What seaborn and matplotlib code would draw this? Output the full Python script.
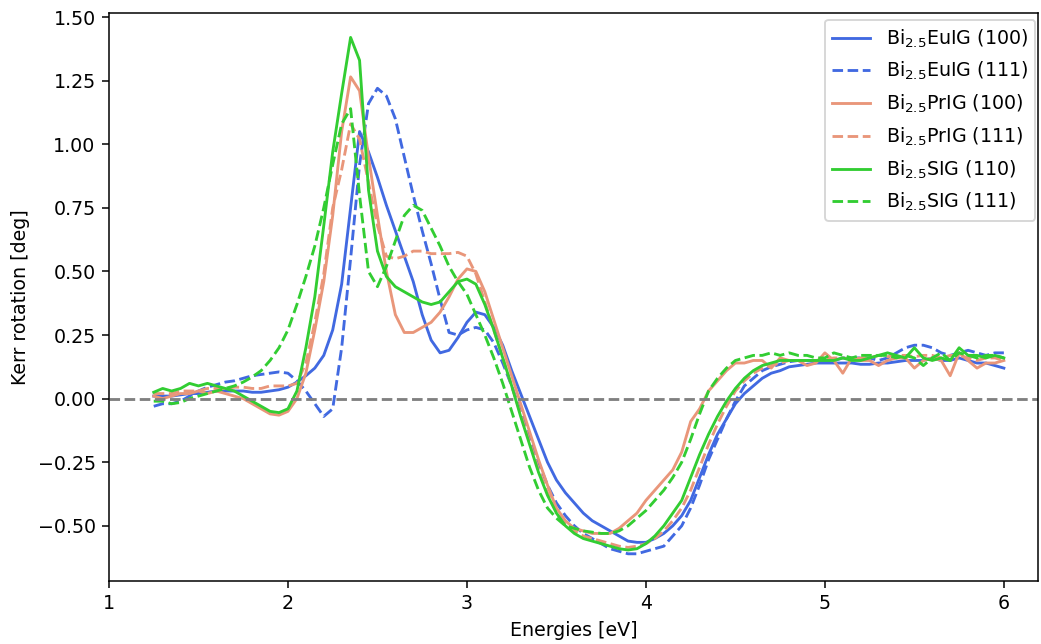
import numpy as np
import pandas as pd
import matplotlib
matplotlib.use("Agg")
import matplotlib.pyplot as plt
import seaborn as sns

# Energy grid (eV)
energies = np.round(np.linspace(1.25, 6.0, 96), 2)

eu_100 = [0.01, 0.01, 0.01, 0.015, 0.02, 0.02, 0.025, 0.03, 0.03, 0.03, 0.03, 0.025, 0.025, 0.03, 0.035, 0.045,
          0.065, 0.09, 0.12, 0.17, 0.27, 0.45, 0.75, 1.05, 0.97, 0.87, 0.76, 0.66, 0.56, 0.46, 0.33, 0.23, 0.18, 0.19, 0.24, 0.30,
          0.34, 0.33, 0.28, 0.21, 0.11, 0.02, -0.07, -0.16, -0.25, -0.32, -0.37, -0.41, -0.45, -0.48, -0.50, -0.52, -0.54, -0.56, -0.565, -0.565,
          -0.55, -0.53, -0.50, -0.46, -0.40, -0.31, -0.22, -0.14, -0.08, -0.02, 0.02, 0.05, 0.08, 0.10, 0.11, 0.125, 0.13, 0.135, 0.14, 0.14,
          0.14, 0.14, 0.14, 0.135, 0.135, 0.14, 0.14, 0.145, 0.15, 0.15, 0.15, 0.16, 0.15, 0.15, 0.16, 0.15, 0.14, 0.14, 0.13, 0.12]

eu_111 = [-0.03, -0.02, -0.02, -0.01, 0.01, 0.03, 0.045, 0.055, 0.065, 0.07, 0.08, 0.09, 0.095, 0.10, 0.105, 0.10,
          0.07, 0.03, -0.02, -0.07, -0.04, 0.20, 0.55, 0.92, 1.16, 1.22, 1.19, 1.10, 0.95, 0.80, 0.66, 0.53, 0.39, 0.26, 0.25, 0.27,
          0.28, 0.27, 0.22, 0.14, 0.05, -0.05, -0.15, -0.25, -0.34, -0.41, -0.46, -0.50, -0.53, -0.55, -0.57, -0.59, -0.60, -0.61, -0.61, -0.60,
          -0.59, -0.58, -0.54, -0.50, -0.43, -0.34, -0.24, -0.16, -0.08, -0.01, 0.05, 0.08, 0.11, 0.125, 0.135, 0.145, 0.15, 0.15, 0.15, 0.15,
          0.15, 0.16, 0.16, 0.16, 0.16, 0.15, 0.16, 0.18, 0.20, 0.21, 0.21, 0.20, 0.18, 0.17, 0.18, 0.19, 0.18, 0.17, 0.18, 0.18]

pr_100 = [0.01, 0.00, 0.01, 0.02, 0.02, 0.03, 0.02, 0.03, 0.02, 0.01, 0.00, -0.02, -0.04, -0.06, -0.065, -0.05,
          0.00, 0.10, 0.27, 0.46, 0.72, 1.05, 1.265, 1.21, 0.95, 0.72, 0.50, 0.33, 0.26, 0.26, 0.28, 0.30, 0.34, 0.40, 0.47, 0.51,
          0.50, 0.42, 0.31, 0.20, 0.09, -0.02, -0.13, -0.24, -0.34, -0.43, -0.48, -0.51, -0.52, -0.53, -0.53, -0.53, -0.51, -0.48, -0.45, -0.40,
          -0.36, -0.32, -0.28, -0.21, -0.09, -0.04, 0.03, 0.07, 0.11, 0.14, 0.14, 0.15, 0.15, 0.12, 0.16, 0.15, 0.15, 0.13, 0.14, 0.18,
          0.15, 0.10, 0.16, 0.15, 0.15, 0.13, 0.15, 0.16, 0.16, 0.12, 0.15, 0.16, 0.15, 0.09, 0.18, 0.15, 0.12, 0.14, 0.14, 0.15]

pr_111 = [0.02, 0.02, 0.02, 0.03, 0.03, 0.03, 0.04, 0.04, 0.04, 0.045, 0.045, 0.04, 0.04, 0.05, 0.05, 0.05,
          0.06, 0.14, 0.30, 0.49, 0.75, 0.90, 1.08, 1.02, 0.85, 0.68, 0.56, 0.55, 0.56, 0.58, 0.58, 0.57, 0.57, 0.57, 0.575, 0.56,
          0.49, 0.38, 0.27, 0.16, 0.05, -0.06, -0.17, -0.28, -0.37, -0.44, -0.49, -0.52, -0.54, -0.55, -0.56, -0.57, -0.58, -0.585, -0.58, -0.57,
          -0.55, -0.52, -0.48, -0.43, -0.36, -0.27, -0.18, -0.10, -0.03, 0.03, 0.07, 0.10, 0.12, 0.13, 0.14, 0.15, 0.15, 0.15, 0.15, 0.155,
          0.16, 0.16, 0.155, 0.16, 0.16, 0.17, 0.165, 0.17, 0.17, 0.165, 0.17, 0.17, 0.16, 0.17, 0.17, 0.16, 0.15, 0.16, 0.16, 0.15]

si_110 = [0.025, 0.04, 0.03, 0.04, 0.06, 0.05, 0.06, 0.05, 0.04, 0.03, 0.01, -0.01, -0.03, -0.05, -0.055, -0.04,
          0.03, 0.20, 0.40, 0.68, 0.97, 1.20, 1.42, 1.33, 0.82, 0.58, 0.48, 0.44, 0.42, 0.40, 0.38, 0.37, 0.38, 0.42, 0.46, 0.47,
          0.45, 0.37, 0.27, 0.16, 0.05, -0.07, -0.18, -0.29, -0.38, -0.45, -0.50, -0.53, -0.55, -0.56, -0.57, -0.58, -0.59, -0.595, -0.59, -0.57,
          -0.54, -0.50, -0.45, -0.40, -0.31, -0.22, -0.14, -0.07, -0.01, 0.04, 0.08, 0.11, 0.13, 0.14, 0.15, 0.15, 0.15, 0.15, 0.15, 0.15,
          0.15, 0.16, 0.15, 0.15, 0.16, 0.17, 0.18, 0.17, 0.16, 0.20, 0.16, 0.15, 0.16, 0.15, 0.20, 0.17, 0.17, 0.16, 0.17, 0.16]

si_111 = [-0.01, -0.01, -0.02, -0.015, 0.0, 0.01, 0.02, 0.03, 0.04, 0.05, 0.065, 0.085, 0.11, 0.15, 0.20, 0.27,
          0.37, 0.48, 0.60, 0.75, 0.92, 1.08, 1.14, 0.80, 0.50, 0.44, 0.52, 0.62, 0.72, 0.76, 0.74, 0.67, 0.60, 0.52, 0.46, 0.41,
          0.33, 0.25, 0.16, 0.06, -0.05, -0.16, -0.27, -0.36, -0.43, -0.47, -0.50, -0.51, -0.52, -0.525, -0.53, -0.53, -0.52, -0.50, -0.47, -0.44,
          -0.40, -0.36, -0.31, -0.25, -0.16, -0.06, 0.03, 0.08, 0.12, 0.15, 0.16, 0.17, 0.17, 0.18, 0.17, 0.18, 0.17, 0.17, 0.16, 0.16,
          0.18, 0.17, 0.16, 0.17, 0.17, 0.17, 0.17, 0.16, 0.17, 0.16, 0.13, 0.16, 0.18, 0.15, 0.18, 0.17, 0.16, 0.17, 0.17, 0.16]

labels = [r"Bi$_{2.5}$EuIG (100)", r"Bi$_{2.5}$EuIG (111)",
          r"Bi$_{2.5}$PrIG (100)", r"Bi$_{2.5}$PrIG (111)",
          r"Bi$_{2.5}$SIG (110)", r"Bi$_{2.5}$SIG (111)"]
series = [eu_100, eu_111, pr_100, pr_111, si_110, si_111]
colors = ["royalblue", "royalblue", "darksalmon", "darksalmon", "limegreen", "limegreen"]
styles = ["-", "--", "-", "--", "-", "--"]

DPI = 137
fig = plt.figure(figsize=(1041 / DPI, 644 / DPI), dpi=DPI)
ax = fig.add_axes([0.1047, 0.0978, 0.8923, 0.8820])

for lab, vals, c, ls in zip(labels, series, colors, styles):
    df = pd.DataFrame({"E": energies, "v": vals})
    sns.lineplot(data=df, x="E", y="v", ax=ax, color=c, linestyle=ls,
                 linewidth=1.5, label=lab)

ax.axhline(0, color="grey", linestyle="--", linewidth=1.5)
ax.set_xlim(1.0, 6.19)
ax.set_ylim(-0.717, 1.516)
ax.set_xticks([1, 2, 3, 4, 5, 6])
ax.set_xlabel("Energies [eV]")
ax.set_ylabel("Kerr rotation [deg]")
ax.legend(loc="upper right", bbox_to_anchor=(1.0045, 1.0), borderaxespad=0.35,
          labelspacing=0.55)

fig.savefig("out.png", dpi=DPI)
